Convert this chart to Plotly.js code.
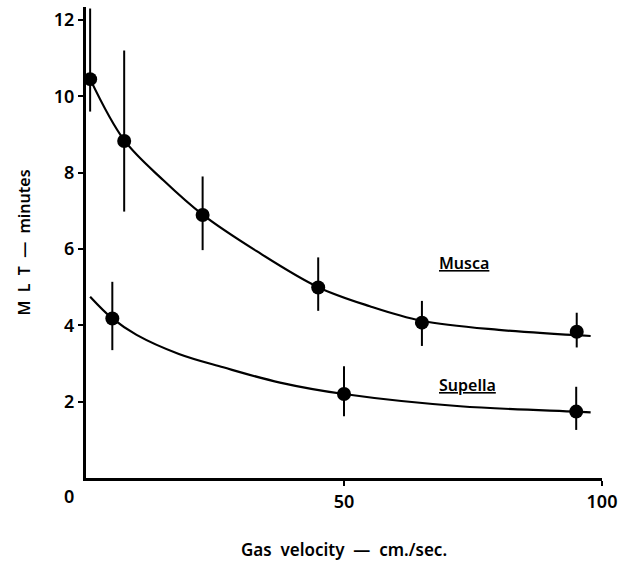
<!DOCTYPE html>
<html>
<head>
<meta charset="utf-8">
<script src="https://cdn.plot.ly/plotly-3.0.1.min.js"></script>
<style>
  html, body { margin: 0; padding: 0; background: #fff; }
  #chart { width: 623px; height: 565px; }
</style>
</head>
<body>
<div id="chart"></div>
<script>
// Measured points (gas velocity cm/sec, MLT minutes)
const muscaX = [0.8, 7.4, 22.6, 45.0, 65.1, 95.1];
const muscaY = [10.45, 8.83, 6.89, 4.99, 4.07, 3.83];
const muscaHi = [12.3, 11.2, 7.9, 5.78, 4.64, 4.33];
const muscaLo = [9.6, 6.98, 5.97, 4.38, 3.46, 3.42];

const supellaX = [5.1, 50.0, 95.0];
const supellaY = [4.18, 2.2, 1.74];
const supellaHi = [5.14, 2.93, 2.39];
const supellaLo = [3.35, 1.62, 1.26];

// Fitted curves
const muscaCurveX = [0.8, 7.4, 15, 22.6, 33, 45, 55, 65, 80, 97.8];
const muscaCurveY = [10.45, 8.85, 7.8, 6.9, 5.95, 5.0, 4.5, 4.12, 3.88, 3.72];
const supellaCurveX = [0.8, 5.1, 9.8, 18, 26.6, 37.6, 50, 72.5, 95, 97.8];
const supellaCurveY = [4.75, 4.18, 3.75, 3.25, 2.9, 2.5, 2.2, 1.88, 1.74, 1.72];

const xTickVals = [50, 100];
const xTickText = ['50', '100'];
const yTickVals = [2, 4, 6, 8, 10, 12];
const yTickText = ['2', '4', '6', '8', '10', '12'];

const font = 'Noto Sans, DejaVu Sans, sans-serif';

function diff(a, b) { return a.map((v, i) => v - b[i]); }

const curveLine = {color: '#000', width: 2.2, shape: 'spline', smoothing: 1};
const err = (hi, lo, y) => ({
  type: 'data', symmetric: false,
  array: diff(hi, y), arrayminus: diff(y, lo),
  color: '#000', thickness: 2, width: 0, visible: true
});

const traces = [
  {x: muscaCurveX, y: muscaCurveY, mode: 'lines', line: curveLine, hoverinfo: 'skip'},
  {x: supellaCurveX, y: supellaCurveY, mode: 'lines', line: curveLine, hoverinfo: 'skip'},
  {x: muscaX, y: muscaY, mode: 'markers', marker: {color: '#000', size: 14},
   error_y: err(muscaHi, muscaLo, muscaY), cliponaxis: false},
  {x: supellaX, y: supellaY, mode: 'markers', marker: {color: '#000', size: 14},
   error_y: err(supellaHi, supellaLo, supellaY), cliponaxis: false}
];

const tickFont = {family: font, size: 18, color: '#000', weight: 600};

const layout = {
  width: 623, height: 565,
  margin: {l: 86, r: 21, t: 7, b: 87},
  paper_bgcolor: '#fff', plot_bgcolor: '#fff',
  showlegend: false,
  font: {family: font, color: '#000', size: 16},
  xaxis: {
    range: [0, 100], showgrid: false, zeroline: false,
    showline: true, linecolor: '#000', linewidth: 3, mirror: false,
    ticks: 'outside', ticklen: 5, tickwidth: 2, tickcolor: '#000',
    tickvals: xTickVals, ticktext: xTickText,
    tickfont: tickFont,
    title: {text: 'Gas\u00a0\u00a0velocity\u00a0\u00a0\u2014\u00a0\u00a0cm./sec.',
            font: {family: font, size: 17, color: '#000', weight: 600}, standoff: 33}
  },
  yaxis: {
    range: [0, 12.34], showgrid: false, zeroline: false,
    showline: true, linecolor: '#000', linewidth: 3, mirror: false,
    ticks: 'outside', ticklen: 5, tickwidth: 2, tickcolor: '#000',
    tickvals: yTickVals, ticktext: yTickText,
    tickfont: tickFont,
    title: {text: 'M\u00a0\u00a0L\u00a0\u00a0T\u00a0\u00a0\u2014\u00a0\u00a0minutes',
            font: {family: font, size: 16, color: '#000', weight: 600}, standoff: 20}
  },
  annotations: [
    {x: 0, y: 0, xref: 'x', yref: 'y', text: '0', showarrow: false,
     xanchor: 'center', yanchor: 'top', xshift: -17, yshift: -4,
     font: tickFont},
    {x: 73.3, y: 5.63, xref: 'x', yref: 'y', text: 'Musca', showarrow: false,
     font: {family: font, size: 16, color: '#000', weight: 600, lineposition: 'under'}},
    {x: 73.9, y: 2.44, xref: 'x', yref: 'y', text: 'Supella', showarrow: false,
     font: {family: font, size: 16, color: '#000', weight: 600, lineposition: 'under'}}
  ]
};

Plotly.newPlot('chart', traces, layout, {displayModeBar: false, staticPlot: true});
</script>
</body>
</html>
